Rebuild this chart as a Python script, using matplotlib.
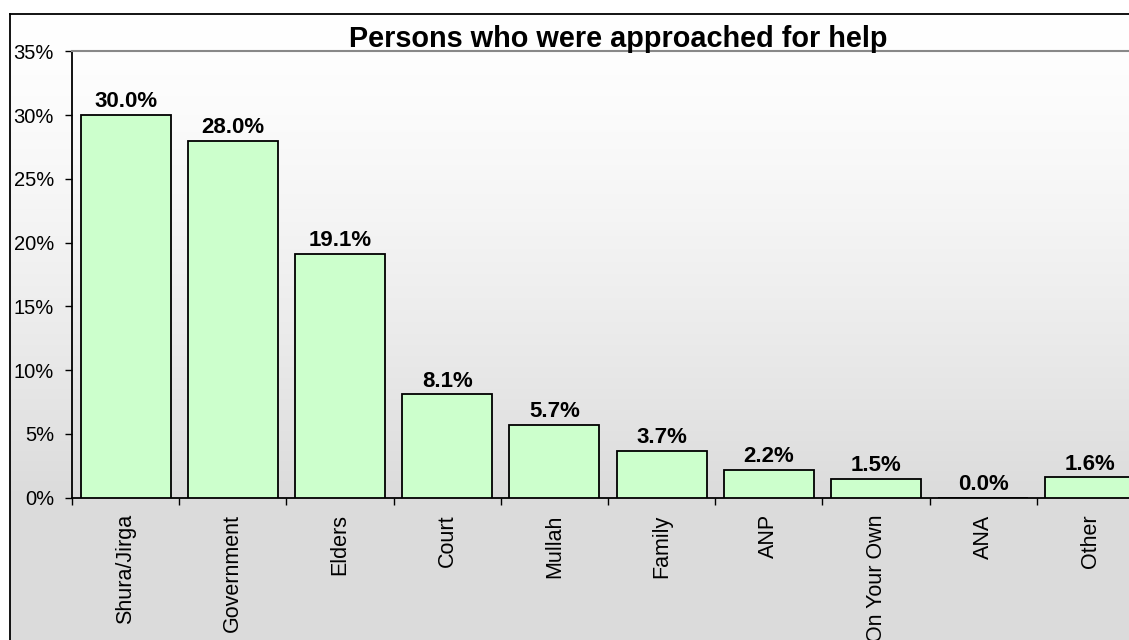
import numpy as np
import matplotlib
matplotlib.use("Agg")
import matplotlib.pyplot as plt
from matplotlib.lines import Line2D
from matplotlib.ticker import FixedLocator, FuncFormatter

categories = ["Shura/Jirga", "Government", "Elders", "Court", "Mullah",
              "Family", "ANP", "On Your Own", "ANA", "Other"]
values = [30.0, 28.0, 19.1, 8.1, 5.7, 3.7, 2.2, 1.5, 0.0, 1.6]
title = "Persons who were approached for help"
yticks = [0, 5, 10, 15, 20, 25, 30, 35]

plt.rcParams['font.family'] = ['Liberation Sans', 'DejaVu Sans']

W, H = 1129, 640
fig = plt.figure(figsize=(W / 100, H / 100), dpi=100)
fig.patch.set_facecolor('white')

# background gradient (chart area)
bg = fig.add_axes([0, 0, 1, 1], zorder=-10)
bg.set_axis_off()
ys = np.arange(H)
t = np.clip((ys - 13) / 487.0, 0, 1) ** 1.4
v = 255 - 36 * t
img = np.ones((H, W, 3))
img[:, :, :] = (v / 255.0)[:, None, None]
img[:13, :, :] = 1.0
img[:, :10, :] = 1.0
bg.imshow(img, aspect='auto', extent=[0, W, H, 0], interpolation='bilinear')
bg.set_xlim(0, W)
bg.set_ylim(H, 0)

# outer border (left and top visible)
fig.add_artist(Line2D([10 / W, 10 / W], [-0.1, 1 - 13.5 / H], transform=fig.transFigure,
                      color='black', lw=1.3))
fig.add_artist(Line2D([10 / W, 1.1], [1 - 13.5 / H, 1 - 13.5 / H], transform=fig.transFigure,
                      color='black', lw=1.3))

left = 72 / W
width = 1072 / W
bottom = (H - 497.7) / H
height = (497.7 - 51.3) / H
ax = fig.add_axes([left, bottom, width, height])
ax.patch.set_visible(False)

n = len(categories)
x = np.arange(n)
bars = ax.bar(x, values, width=0.84, color='#CCFFCC', edgecolor='black', linewidth=1.3, zorder=3)

ax.set_xlim(-0.5, n - 0.5)
ax.set_ylim(0, 35)
ax.yaxis.set_major_locator(FixedLocator(yticks))
ax.yaxis.set_major_formatter(FuncFormatter(lambda val, pos: f"{int(val)}%"))

ax.set_xticks(x)
ax.set_xticklabels(categories, rotation=90, fontsize=15.5, va='top', ha='center')
ax.xaxis.set_minor_locator(FixedLocator(np.arange(-0.5, n, 1.0)))
ax.tick_params(axis='x', which='major', length=0, pad=12)
ax.tick_params(axis='x', which='minor', length=5, width=1, color='black', direction='out')
ax.tick_params(axis='y', which='major', length=5, width=1, direction='out', pad=8, labelsize=14.5)

for s in ['right']:
    ax.spines[s].set_visible(False)
ax.spines['top'].set_color('#888888')
ax.spines['top'].set_linewidth(1.5)
ax.spines['left'].set_linewidth(1.3)
ax.spines['bottom'].set_linewidth(1.3)

for xi, val in zip(x, values):
    ax.annotate(f"{val:.1f}%", (xi, val), xytext=(0, 2), textcoords='offset points',
                ha='center', va='bottom', fontsize=16, fontweight='bold', zorder=5)

fig.text(618 / W, 1 - 47 / H, title, ha='center', va='baseline',
         fontsize=20.8, fontweight='bold')

fig.savefig('out.png', dpi=100)
